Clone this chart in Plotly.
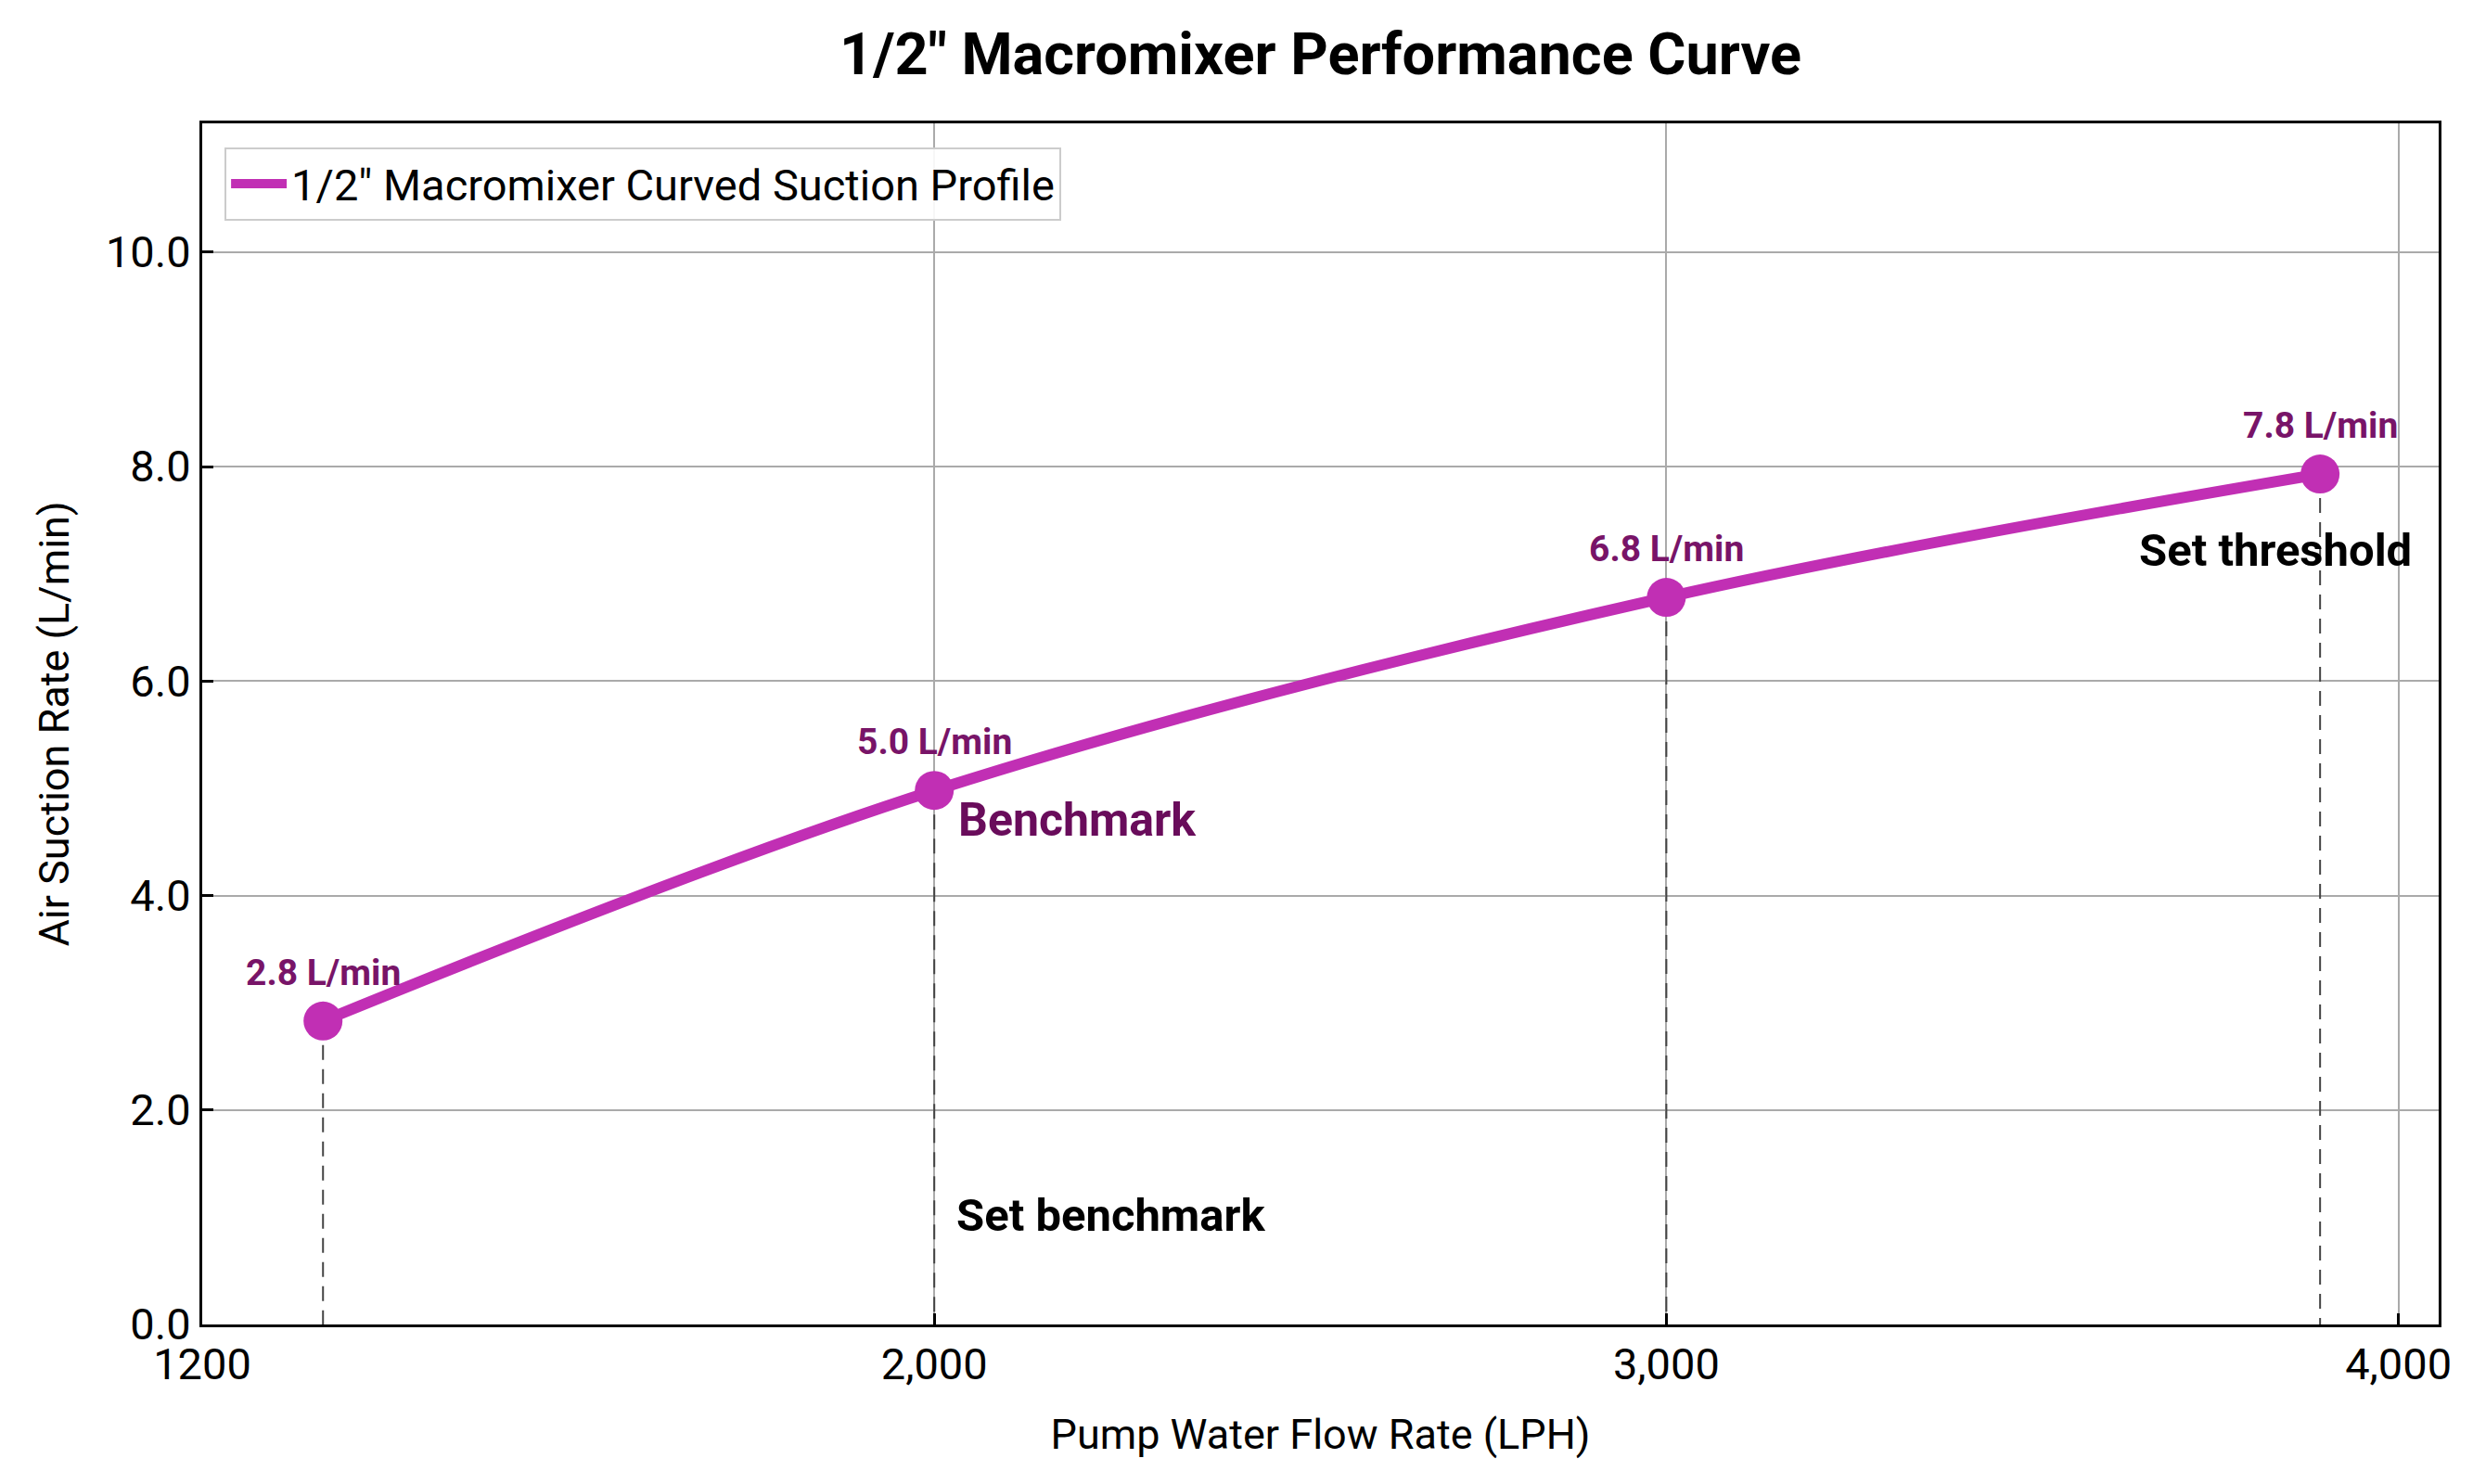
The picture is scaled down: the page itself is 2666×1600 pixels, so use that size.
import plotly.graph_objects as go

# ---- data ----
flow_lph = [1165, 2000, 3000, 3893]
air_lpm = [2.83, 4.98, 6.78, 7.93]
value_labels = ["2.8 L/min", "5.0 L/min", "6.8 L/min", "7.8 L/min"]
x_tickvals = [1000, 2000, 3000, 4000]
x_ticktext = ["1200", "2,000", "3,000", "4,000"]
y_tickvals = [0, 2, 4, 6, 8, 10]
y_ticktext = ["0.0", "2.0", "4.0", "6.0", "8.0", "10.0"]
series_name = '1/2" Macromixer Curved Suction Profile'
title_text = '1/2" Macromixer Performance Curve'
benchmark_label = "Benchmark"
set_benchmark_label = "Set benchmark"
set_benchmark_pos = (2028, 1.02)
threshold_label = "Set threshold"

LINE = "#C12FB4"
LABEL = "#781468"
BENCH = "#690C5B"
FONT = "Roboto"

fig = go.Figure()

# dashed drop lines
dx, dy = [], []
for x, y in zip(flow_lph, air_lpm):
    dx += [x, x, None]
    dy += [y, 0, None]
fig.add_trace(go.Scatter(x=dx, y=dy, mode="lines", showlegend=False, hoverinfo="skip",
                         line=dict(color="#444444", width=2, dash="16px,10px")))

fig.add_trace(go.Scatter(x=flow_lph, y=air_lpm, mode="lines", name=series_name,
                         line=dict(color=LINE, width=12, shape="spline", smoothing=1.0)))
fig.add_trace(go.Scatter(x=flow_lph, y=air_lpm, mode="markers", showlegend=False,
                         marker=dict(color=LINE, size=42)))

# value labels
for x, y, t in zip(flow_lph, air_lpm, value_labels):
    fig.add_annotation(x=x, y=y, text=f"<b>{t}</b>", showarrow=False,
                       yshift=52, font=dict(family=FONT, size=39, color=LABEL))

fig.add_annotation(x=flow_lph[1], y=air_lpm[1], text=f"<b>{benchmark_label}</b>",
                   showarrow=False, xanchor="left", xshift=24, yshift=-32,
                   font=dict(family=FONT, size=50, color=BENCH))
fig.add_annotation(x=set_benchmark_pos[0], y=set_benchmark_pos[1],
                   text=f"<b>{set_benchmark_label}</b>", showarrow=False, xanchor="left",
                   font=dict(family=FONT, size=49, color="black"))
fig.add_annotation(x=flow_lph[3], y=air_lpm[3], text=f"<b>{threshold_label}</b>",
                   showarrow=False, xanchor="center", xshift=-48, yshift=-82,
                   font=dict(family=FONT, size=49, color="black"))

fig.update_layout(
    width=2658, height=1592,
    paper_bgcolor="white", plot_bgcolor="white",
    margin=dict(l=210, r=37, t=125, b=172),
    font=dict(family=FONT, size=46, color="black"),
    title=dict(text=f"<b>{title_text}</b>", x=0.5, xref="paper", xanchor="center",
               y=1 - 50 / 1592, yanchor="middle", font=dict(family=FONT, size=63, color="black")),
    legend=dict(x=0.01, y=0.98, xanchor="left", yanchor="top",
                bgcolor="rgba(255,255,255,0.9)", bordercolor="#cccccc", borderwidth=2,
                font=dict(family=FONT, size=47, color="black"), itemwidth=60),
    showlegend=True,
)
fig.update_xaxes(range=[1000, 4055], tickvals=x_tickvals, ticktext=x_ticktext,
                 automargin=False,
                 showgrid=True, gridcolor="#aaaaaa", gridwidth=2,
                 showline=True, linecolor="black", linewidth=3, mirror=True,
                 ticks="inside", ticklen=12, tickwidth=3, tickcolor="black",
                 zeroline=False,
                 title=dict(text="Pump Water Flow Rate (LPH)", standoff=34,
                            font=dict(family=FONT, size=45)),
                 tickfont=dict(family=FONT, size=47))
fig.update_yaxes(range=[0, 11.2], tickvals=y_tickvals, ticktext=y_ticktext,
                 automargin=False,
                 showgrid=True, gridcolor="#aaaaaa", gridwidth=2,
                 showline=True, linecolor="black", linewidth=3, mirror=True,
                 ticks="inside", ticklen=12, tickwidth=3, tickcolor="black",
                 zeroline=False,
                 title=dict(text="Air Suction Rate (L/min)", standoff=26,
                            font=dict(family=FONT, size=45)),
                 tickfont=dict(family=FONT, size=47))

fig.write_html("out.html")
